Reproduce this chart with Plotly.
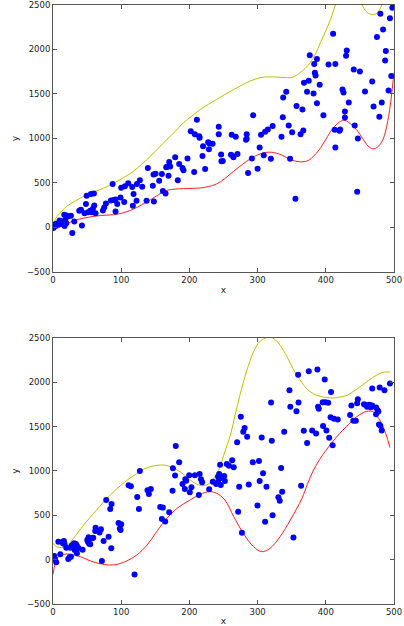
import plotly.graph_objects as go

# ---------------- Top panel data ----------------
x1 = [497.6, 480, 494, 484, 475, 410.7, 488, 487, 376.5, 430.7, 429.7, 383, 387, 404, 414, 384, 385, 391,
      441, 450, 468, 496, 368, 375, 342, 337.5, 372.5, 382, 426, 424.5, 457.5, 492, 482, 433.7, 428, 428,
      470, 478.5, 387, 357, 365.7, 396.5, 293.5, 337, 345.6, 442.4, 211, 202, 208, 214.4, 215, 243, 243,
      227.5, 229.6, 234, 228.6, 220, 284, 284, 262, 268, 305, 311, 315, 322, 335, 350.6, 363, 367, 303,
      413, 420, 421, 414, 447, 261, 264, 270.5, 291.6, 309, 319.5, 347.6,
      249, 264.6, 286, 300, 355.5, 446, 283,
      1.9, 4.8, 3.4, 6.8, 9.7, 12.2, 13.6, 16.5, 19.5, 21.9, 26.3, 18, 19.5, 17, 31.2, 28.3, 42.4, 38.5,
      41, 46.3, 48.3, 49.3, 55.6, 60, 51.2, 54.6, 58.5, 60.5, 62.4, 57, 73.2, 75.1, 77.6, 84.9, 88.8, 91.7,
      94.2, 91.7, 99, 100, 104.4, 105.4, 110.3, 116.2, 118.1, 117.1, 122.5, 123, 127.4, 130.8, 87.4, 137.2,
      139.1, 147.4, 146.4, 147.9, 150.3, 155.7, 159.6, 161.1, 165, 166, 167, 170.4, 169.4, 171.8, 179.2,
      183, 185, 189.9, 191.4, 197.2, 207, 219.2, 223.1, 247, 246.5, 0.5, 1.0]
y1 = [2470, 2402, 2350, 2226, 2140, 2177, 1982, 1877, 1934, 1990, 1930, 1836, 1892, 1832, 1836, 1739, 1709, 1604,
      1776, 1754, 1641, 1701, 1626, 1649, 1525, 1461, 1525, 1506, 1517, 1551, 1529, 1540, 1405, 1405, 1304, 1236,
      1360, 1244, 1397, 1364, 1326, 1262, 1262, 1240, 1146, 1146, 1210, 1082, 1049, 1026, 1007, 1131, 1049,
      959, 944, 940, 880, 914, 1049, 996, 1041, 1019, 1041, 1075, 1101, 1139, 1019, 1071, 1049, 1090, 899,
      1097, 1086, 1101, 899, 1000, 816, 801, 827, 775, 812, 771, 771,
      746, 789, 613, 661, 323, 402, 985,
      11, 41, 22, 30, 78, 67, 37, 142, 135, 124, 131, 86, 48, 18, 67, -61, 22, 187,
      199, 161, 263, 357, 376, 383, 172, 187, 210, 248, 161, 172, 191, 225, 270, 304, 308, 180,
      263, 315, 338, 447, 285, 462, 496, 454, 376, 244, 300, 488, 530, 458, 488, 300,
      669, 594, 469, 293, 605, 526, 601, 409, 383, 676, 680, 736, 582, 684, 789,
      530, 714, 669, 643, 774, 624, 804, 658, 744, 819, -5, 30]

red1_x = [0, 10, 20, 32, 45, 57, 70, 82, 95, 106, 118, 130, 143, 155, 167, 180, 191, 205, 216, 228, 240, 252,
          265, 278, 290, 300, 310, 320, 335, 350, 365, 375, 382, 390, 400, 410, 420, 428, 437, 445, 455, 462,
          469, 476, 482, 487, 491, 495, 498, 500]
red1_y = [-34, 5, 41, 80, 105, 122, 135, 140, 150, 172, 206, 255, 312, 370, 417, 432, 436, 440, 444, 460, 489, 550,
          632, 710, 775, 815, 840, 846, 815, 758, 737, 755, 801, 870, 990, 1110, 1185, 1203, 1160, 1100, 990, 915,
          884, 905, 960, 1060, 1200, 1400, 1600, 1740]

yel1_x = [0, 6, 13, 20, 32, 45, 57, 69, 82, 94, 106, 118, 130, 143, 155, 167, 180, 191, 204, 216, 228, 240, 252,
          265, 277, 289, 300, 310, 320, 330, 340, 348, 355, 362, 370, 377, 385, 392, 400, 407, 414, 420, 430, 440,
          448, 453, 460, 466, 470, 475, 479, 482, 488, 494, 500]
yel1_y = [41, 124, 185, 237, 295, 350, 390, 425, 470, 519, 572, 632, 710, 801, 895, 989, 1085, 1176, 1255, 1326,
          1385, 1439, 1495, 1551, 1600, 1645, 1675, 1690, 1692, 1690, 1684, 1684, 1700, 1739, 1790, 1851, 1950,
          2076, 2210, 2339, 2500, 2620, 2720, 2680, 2560, 2500, 2420, 2395, 2393, 2410, 2450, 2500, 2620, 2800, 3000]

# ---------------- Bottom panel data ----------------
x2 = [127.4, 175.8, 180, 185, 179, 199.7, 208, 215, 194, 217, 243.7, 242, 251, 254.9, 258, 262.7, 265, 270,
      275.4, 279, 281, 284.7, 293, 302, 306, 308, 319.8, 320.8, 334.5, 339, 346.7, 348, 357, 359.4, 360, 367.7,
      372.6, 375, 380, 385.7, 387.7, 388.7, 389.7, 396, 398.4, 395.5, 400.9, 399.5, 403.5, 407.7, 405, 407, 410,
      412, 417.5, 435.6, 437.5, 440.4, 444, 446, 447, 456, 458.5, 460.5, 464, 466, 468, 473.7, 476, 477, 473.7,
      478, 480, 482, 468, 479, 486, 494, 245,
      1.9, 2.9, 4.8, 0.4, 7.8, 10.7, 14.1, 16, 17, 14.6, 19.5, 22.4, 24.4, 26.3, 25.3, 27.3, 29.7, 31.2, 33.6,
      32.7, 31.7, 35.1, 37.5, 35.1, 43.4, 50.2, 52.2, 54.6, 57, 53, 51.2, 59, 62.4, 61.9, 68.3, 70.3, 74.2, 71.7,
      81.5, 85.4, 78, 83.9, 85.9, 96.1, 100, 98.1, 99.1, 110.8, 114.2, 123.5, 126, 138.6, 143.5, 140.6, 157.2,
      161, 164.5, 159.6, 170.4, 175.3, 189.9, 193.3, 195.3, 200.6, 203, 213.8, 218.7, 229, 234.3, 239.2, 242.1,
      246, 119.6,
      245, 248, 252, 273, 287, 303, 313, 336, 330.5, 332.5, 363.8, 299.8, 271.5, 322, 311, 277, 352.5]
y2 = [1000, 1030, 1281, 1098, 948, 951, 951, 966, 906, 906, 966, 936, 944, 1079, 1060, 1120, 1041, 1323,
      1611, 1443, 1484, 1386, 1098, 1113, 1379, 974, 1772, 1341, 1034, 1443, 1911, 1724, 1675, 2084, 1772, 1454,
      1315, 2125, 1458, 1424, 2144, 1724, 1701, 1506, 2031, 1776, 1458, 1776, 1770, 1892, 1375, 1607, 1289,
      1589, 1581, 1630, 1739, 1566, 1566, 1765, 1810, 1754, 1743, 1724, 1746, 1720, 1739, 1716, 1686, 1671, 1641,
      1525, 1510, 1458, 1930, 1941, 1911, 1986, 1071,
      41, 4, -30, 22, 203, 60, 203, 210, 177, 184, 135, 7, 26, 34, 135, 158, 173, 184, 177,
      147, 109, 154, 131, 71, 113, 222, 252, 173, 241, 180, 203, 248, 361, 323, 305, 342, 211, -15,
      259, 128, 673, 571, 628, 413, 398, 350, 335, 838, 827, 707, 571, 782, 797, 741, 594,
      587, 429, 459, 534, 778, 853, 797, 891, 759, 816, 729, 872, 793, 880, 853, 880,
      842, -166,
      917, 928, 887, 823, 849, 887, 823, 767, 703, 665, 834, 612, 541, 500, 428, 304, 251]

red2_x = [0, 3.4, 8, 15.6, 25, 35, 45, 55, 69, 81.5, 94, 108, 123, 138, 152, 167, 182, 201, 216, 229, 240, 252,
          265, 279, 294, 306, 318, 333, 348, 365, 373, 382, 391, 400, 411, 420, 430, 445, 453, 460, 466, 470,
          475, 480, 488, 494]
red2_y = [-166, -41, 34, 60, 62, 45, 20, -15, -45, -60, -53, -15, 53, 165, 316, 466, 579, 673, 737, 767, 748, 673,
          485, 297, 146, 90, 127, 259, 447, 691, 850, 1011, 1130, 1230, 1340, 1420, 1500, 1610, 1650, 1673, 1675,
          1665, 1620, 1560, 1420, 1265]

yel2_x = [0, 5.8, 13, 20.5, 30, 45, 64, 84, 103, 113, 121, 133, 146, 159, 170, 182, 192, 201, 210, 218, 226, 233,
          240, 245, 252, 260, 267, 274, 284, 294, 301, 309, 318, 326, 333, 343, 352, 362, 372, 382, 392, 401, 411,
          421, 431, 440, 450, 460, 470, 478, 486, 494]
yel2_y = [184, 147, 135, 158, 241, 391, 560, 729, 861, 920, 960, 1020, 1055, 1068, 1055, 1011, 960, 899, 855, 835,
          845, 885, 974, 1050, 1220, 1402, 1630, 1853, 2130, 2342, 2440, 2492, 2508, 2480, 2417, 2290, 2154, 2030,
          1928, 1870, 1842, 1828, 1823, 1835, 1853, 1895, 1947, 2005, 2060, 2095, 2115, 2116]

x_ticks = [0, 100, 200, 300, 400, 500]
x_ticktext = ["0", "100", "200", "300", "400", "500"]
y_ticks = [-500, 0, 500, 1000, 1500, 2000, 2500]
y_ticktext = ["\u2212500", "0", "500", "1000", "1500", "2000", "2500"]

RED = "#ff2020"
YEL = "#bfbf00"
BLUE = "#0000ff"

fig = go.Figure()

def add_panel(xa, ya, sx, sy, rx, ry, yx, yy):
    fig.add_trace(go.Scatter(x=yx, y=yy, mode="lines", line=dict(color=YEL, width=1, shape="spline"),
                             xaxis=xa, yaxis=ya, showlegend=False, hoverinfo="skip"))
    fig.add_trace(go.Scatter(x=rx, y=ry, mode="lines", line=dict(color=RED, width=1, shape="spline"),
                             xaxis=xa, yaxis=ya, showlegend=False, hoverinfo="skip"))
    fig.add_trace(go.Scatter(x=sx, y=sy, mode="markers", marker=dict(color=BLUE, size=6, line=dict(width=0)),
                             xaxis=xa, yaxis=ya, showlegend=False))

add_panel("x", "y", x1, y1, red1_x, red1_y, yel1_x, yel1_y)
add_panel("x2", "y2", x2, y2, red2_x, red2_y, yel2_x, yel2_y)

tickfont = dict(family="DejaVu Sans", size=8.5, color="#222")
titlefont = dict(family="DejaVu Sans", size=9, color="#222")

def xaxis_cfg(anchor):
    return dict(range=[0, 500], tickvals=x_ticks, ticktext=x_ticktext, ticks="inside", ticklen=4,
                tickcolor="#555", mirror="ticks", showline=True, linecolor="#555", linewidth=1,
                showgrid=False, zeroline=False, tickfont=tickfont, anchor=anchor, domain=[0, 1],
                ticklabeloverflow="allow",
                title=dict(text="x", font=titlefont, standoff=2), automargin=False)

def yaxis_cfg(anchor, domain):
    return dict(range=[-500, 2500], tickvals=y_ticks, ticktext=y_ticktext, ticks="inside", ticklen=4,
                tickcolor="#555", mirror="ticks", showline=True, linecolor="#555", linewidth=1,
                showgrid=False, zeroline=False, tickfont=tickfont, anchor=anchor, domain=domain,
                ticklabeloverflow="allow",
                title=dict(text="y", font=titlefont, standoff=6), automargin=False)

fig.update_layout(
    width=404, height=626,
    margin=dict(l=53, r=10, t=5, b=22),
    paper_bgcolor="white", plot_bgcolor="white",
    xaxis=xaxis_cfg("y"),
    yaxis=yaxis_cfg("x", [0.5543, 1.0]),
    xaxis2=xaxis_cfg("y2"),
    yaxis2=yaxis_cfg("x2", [0.0, 0.4441]),
)

fig.write_html("out.html",
               config={"displayModeBar": False},
               post_script="document.body.style.margin='0';document.body.style.overflow='hidden';")
